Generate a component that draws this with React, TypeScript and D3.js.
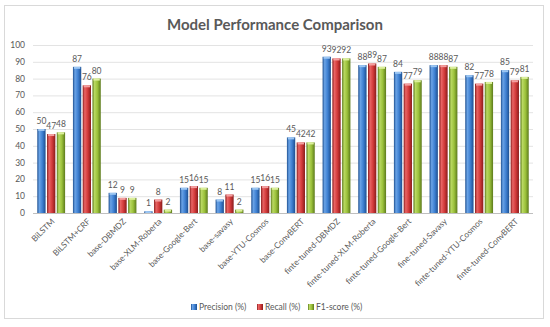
import React from "react";
import * as d3 from "d3";

const categories = [
  "BiLSTM",
  "BiLSTM+CRF",
  "base-DBMDZ",
  "base-XLM-Roberta",
  "base-Google-Bert",
  "base-savasy",
  "base-YTU-Cosmos",
  "base-ConvBERT",
  "finte-tuned-DBMDZ",
  "finte-tuned-XLM-Roberta",
  "finte-tuned-Google-Bert",
  "fine-tuned-Savasy",
  "finte-tuned-YTU-Cosmos",
  "finte-tuned-ConvBERT",
];
const precision = [50, 87, 12, 1, 15, 8, 15, 45, 93, 88, 84, 88, 82, 85];
const recall = [47, 76, 9, 8, 16, 11, 16, 42, 92, 89, 77, 88, 77, 79];
const f1 = [48, 80, 9, 2, 15, 2, 15, 42, 92, 87, 79, 87, 78, 81];
const seriesNames = ["Precision (%)", "Recall (%)", "F1-score (%)"];
const yTicks = [0, 10, 20, 30, 40, 50, 60, 70, 80, 90, 100];

const seriesColors = [
  { id: "gb", base: "#3f81d3", light: "#6aa3e6", dark: "#1d4f90", cap: "#9cc6f2" },
  { id: "gr", base: "#d33b3b", light: "#e86464", dark: "#8a1b1b", cap: "#f3a0a0" },
  { id: "gg", base: "#9cc23b", light: "#b9d862", dark: "#5c7a1c", cap: "#dcef9c" },
];

const FONT = "Lato, 'Open Sans', sans-serif";
const TEXT = "#595959";

export default function App() {
  const W = 550, H = 327;
  const left = 33, right = 533, top = 45, bottom = 213;
  const x = d3.scaleBand<string>().domain(categories).range([left, right]).paddingInner(0.22).paddingOuter(0.12);
  const y = d3.scaleLinear().domain([0, 100]).range([bottom, top]);
  const xs = d3.scaleBand<number>().domain([0, 1, 2]).range([0, x.bandwidth()]).paddingInner(0.15);
  const data = [precision, recall, f1];

  return (
    <svg width={W} height={H} style={{ position: "absolute", left: 0, top: 0, background: "#fff" }} fontFamily={FONT}>
      <defs>
        {seriesColors.map((c) => (
          <linearGradient key={c.id} id={c.id} x1="0" x2="1" y1="0" y2="0">
            <stop offset="0" stopColor={c.dark} />
            <stop offset="0.25" stopColor={c.light} />
            <stop offset="0.6" stopColor={c.base} />
            <stop offset="1" stopColor={c.dark} />
          </linearGradient>
        ))}
      </defs>
      <rect x={4.5} y={5.5} width={539} height={313} fill="#fff" stroke="#d9d9d9" />
      <text x={275} y={30} textAnchor="middle" fontSize={15} fontWeight="bold" fill={TEXT}>
        Model Performance Comparison
      </text>
      {yTicks.map((t) => (
        <g key={t}>
          <line x1={left} x2={right} y1={y(t) + 0.5} y2={y(t) + 0.5} stroke={t === 0 ? "#bfbfbf" : "#e3e3e3"} />
          <text x={25} y={y(t) + 3} textAnchor="end" fontSize={8.5} fill={TEXT}>{t}</text>
        </g>
      ))}
      {categories.map((cat, i) => {
        const gx = x(cat)!;
        return (
          <g key={cat}>
            {data.map((arr, s) => {
              const v = arr[i];
              const bx = gx + xs(s)!;
              const bw = xs.bandwidth();
              const by = y(v);
              const c = seriesColors[s];
              return (
                <g key={s}>
                  <rect x={bx} y={by} width={bw} height={bottom - by} fill={`url(#${c.id})`} />
                  <rect x={bx + 1} y={by} width={bw - 2} height={Math.min(2, bottom - by)} fill={c.cap} />
                  <text x={bx + bw / 2} y={by - 5} textAnchor="middle" fontSize={8.5} fill={TEXT}>{v}</text>
                </g>
              );
            })}
            <text
              transform={`translate(${gx + x.bandwidth() / 2 + 4},${bottom + 9}) rotate(-45)`}
              textAnchor="end"
              fontSize={8.3}
              fill={TEXT}
            >
              {cat}
            </text>
          </g>
        );
      })}
      {seriesNames.map((n, s) => {
        const lx = [191, 257, 308][s];
        const c = seriesColors[s];
        return (
          <g key={n}>
            <rect x={lx} y={304} width={6} height={6} fill={`url(#${c.id})`} />
            <text x={lx + 8} y={310} fontSize={8.5} fill={TEXT}>{n}</text>
          </g>
        );
      })}
    </svg>
  );
}
